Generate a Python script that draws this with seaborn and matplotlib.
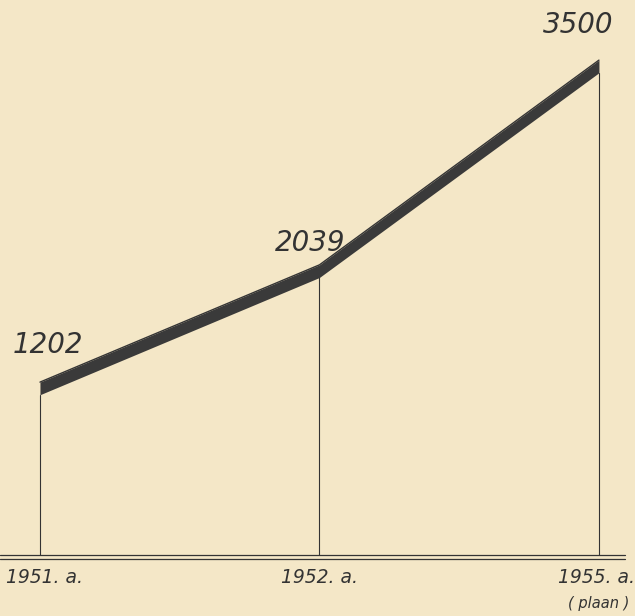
import matplotlib
matplotlib.use('Agg')
import matplotlib.pyplot as plt
import seaborn as sns
import pandas as pd

# andmed
aastad = ['1951. a.', '1952. a.', '1955. a.']
vaartused = [1202, 2039, 3500]
silt_all = '( plaan )'

paber = '#f4e7c7'
tint = '#333333'

sns.set_style('white')
plt.rcParams['font.family'] = ['DejaVu Sans']

df = pd.DataFrame({'x': range(len(aastad)), 'v': vaartused})

fig = plt.figure(figsize=(6.35, 6.16), dpi=100, facecolor=paber)
ax = fig.add_axes([0, 0, 1, 1])
ax.set_facecolor(paber)

# paks riba: ülemine serv = väärtus
paksus = 90
ax.fill_between(df['x'], df['v'] - paksus, df['v'], color='#3a3a3a', lw=0, zorder=3)
sns.lineplot(data=df, x='x', y='v', color='#353535', lw=1, ax=ax, zorder=4)

# püstjooned
for x, v in zip(df['x'], df['v']):
    ax.plot([x, x], [-33, v - paksus], color=tint, lw=0.8, zorder=2)

# topeltalus
ax.axhline(-33, xmin=0, xmax=0.985, color=tint, lw=0.9)
ax.axhline(-61, xmin=0, xmax=0.985, color=tint, lw=0.9)

# väärtuste sildid
nihked = [(8, 37), (-9, 22), (-21, 35)]
for x, v, (dx, dy) in zip(df['x'], df['v'], nihked):
    ax.annotate(str(v), (x, v), xytext=(dx, dy), textcoords='offset pixels',
                ha='center', va='center', fontsize=20, style='italic', color=tint)

# aastate sildid
ax.set_xlim(-0.143, 2.129)
ax.set_ylim(-467, 3929)
keskx = [0.015, 1, 1.99]
for x, t in zip(keskx, aastad):
    ax.text(x, -190, t, ha='center', va='center', fontsize=13.5,
            style='italic', color=tint)
ax.text(2, -380, silt_all, ha='center', va='center', fontsize=10.5,
        style='italic', color=tint)

ax.set_axis_off()
fig.savefig('out.png', dpi=100, facecolor=paber)
